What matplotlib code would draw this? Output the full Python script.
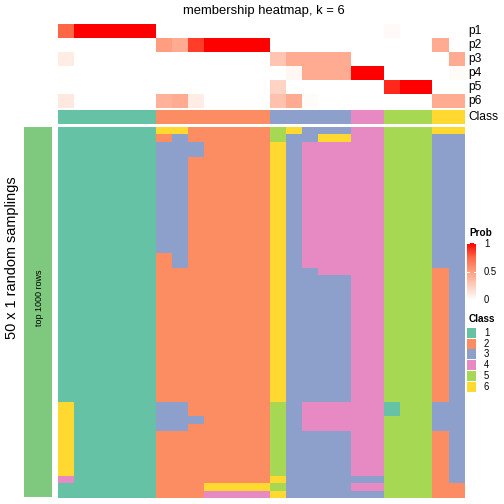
import numpy as np
import matplotlib
matplotlib.use("Agg")
import matplotlib.pyplot as plt
from matplotlib.colors import ListedColormap, LinearSegmentedColormap

plt.rcParams['font.family'] = ['Liberation Sans', 'DejaVu Sans']

# class colours (Set2-like)
class_colors = ['#66C2A5', '#FC8D62', '#8DA0CB', '#E78AC3', '#A6D854', '#FFD92F']
class_labels = ['1', '2', '3', '4', '5', '6']
prob_labels = ['p1', 'p2', 'p3', 'p4', 'p5', 'p6']

# membership probabilities, 25 samples
p1 = [0.75, 1, 1, 1, 1, 1, 0, 0, 0, 0, 0, 0, 0, 0, 0, 0, 0, 0, 0, 0, 0.03, 0, 0, 0, 0]
p2 = [0, 0, 0, 0, 0, 0, 0.5, 0.43, 0.85, 1, 1, 1, 1, 0, 0, 0, 0, 0, 0, 0, 0, 0, 0, 0.43, 0]
p3 = [0.1, 0, 0, 0, 0, 0, 0, 0, 0, 0, 0, 0, 0, 0.3, 0.43, 0.43, 0.43, 0.43, 0, 0, 0, 0, 0, 0, 0.43]
p4 = [0, 0, 0, 0, 0, 0, 0, 0, 0, 0, 0, 0, 0, 0, 0.04, 0.43, 0.43, 0.43, 1, 1, 0, 0, 0, 0, 0.02]
p5 = [0, 0, 0, 0, 0, 0, 0, 0, 0, 0, 0, 0, 0, 0.22, 0, 0, 0, 0, 0, 0, 0.9, 1, 1, 0, 0]
p6 = [0.12, 0, 0, 0, 0, 0, 0.4, 0.43, 0.1, 0, 0, 0, 0, 0.32, 0.43, 0.02, 0, 0, 0, 0, 0, 0, 0, 0.43, 0.43]

# consensus class per sample
consensus = [1]*6 + [2]*7 + [3]*5 + [4]*2 + [5]*3 + [6]*2

# class of each sample in the 50 random samplings (one list per sample column)
col0 = [1]*37 + [6]*10 + [4] + [1]*2
col1 = [1]*50
col6 = [6] + [2] + [3]*15 + [2]*20 + [3]*4 + [2]*9
col7 = [6] + [3]*18 + [2]*18 + [3]*4 + [2]*9
col8 = [2]*2 + [3]*2 + [2]*35 + [3] + [2]*10
col9 = [2]*48 + [6] + [4]
col13 = [5]*2 + [6]*35 + [5]*10 + [6] + [5] + [6]
col14 = [6] + [3]*49
col15 = [3]*2 + [4]*17 + [3]*18 + [4]*4 + [3]*9
col16 = [3] + [6] + [4]*18 + [3]*17 + [4]*4 + [3]*9
col18 = [4]*47 + [3] + [4] + [3]
col20 = [5]*37 + [1]*2 + [5]*11
col21 = [5]*50
col23 = [6] + [3]*18 + [2]*18 + [3]*4 + [2]*9
col24 = [6] + [3]*47 + [2]*2

samplings = [col0, col1, col1, col1, col1, col1,
             col6, col7, col8, col9, col9, col9, col9,
             col13, col14, col15, col16, col16,
             col18, col18, col20, col21, col21, col23, col24]

W = H = 504
fig = plt.figure(figsize=(7, 7), dpi=72)


def box(x0, y0, x1, y1):
    # pixel box (top-left origin) -> axes
    return fig.add_axes([x0 / W, 1 - y1 / H, (x1 - x0) / W, (y1 - y0) / H])


# LAB-like white -> red ramp
prob_cmap = LinearSegmentedColormap.from_list(
    'prob', [(0, '#FFFFFF'), (0.25, '#FFCFBE'), (0.5, '#FF9E81'),
             (0.75, '#FF6846'), (1, '#FF0000')])
class_cmap = ListedColormap(class_colors)

xl, xr = 58, 465

ax_p = box(xl, 24, xr, 108)
ax_p.imshow(np.array([p1, p2, p3, p4, p5, p6]), cmap=prob_cmap, vmin=0, vmax=1,
            aspect='auto', interpolation='nearest')
ax_p.set_axis_off()
for i, lab in enumerate(prob_labels):
    fig.text(468 / W, 1 - (24 + 14 * i + 7) / H, lab, fontsize=12, va='center', ha='left')

ax_c = box(xl, 110, xr, 124)
ax_c.imshow(np.array([consensus]) - 1, cmap=class_cmap, vmin=-0.5, vmax=5.5,
            aspect='auto', interpolation='nearest')
ax_c.set_axis_off()
fig.text(468 / W, 1 - 117 / H, 'Class', fontsize=12, va='center', ha='left')

ax_b = box(xl, 127, xr, 498)
ax_b.imshow(np.array(samplings).T - 1, cmap=class_cmap, vmin=-0.5, vmax=5.5,
            aspect='auto', interpolation='nearest')
ax_b.set_axis_off()

fig.text(264 / W, 1 - 11 / H, 'membership heatmap, k = 6', fontsize=13,
         ha='center', va='center')

# left annotation bar
ax_l = box(24, 127, 52, 497)
ax_l.set_facecolor('#7FC97F')
ax_l.set_xticks([])
ax_l.set_yticks([])
for s in ax_l.spines.values():
    s.set_visible(False)
fig.text(40 / W, 1 - 298 / H, 'top 1000 rows', fontsize=9, rotation=90,
         ha='center', va='center')
fig.text(12 / W, 1 - 258 / H, '50 x 1 random samplings', fontsize=14.5, rotation=90,
         ha='center', va='center')

# Prob legend
fig.text(469 / W, 1 - 233 / H, 'Prob', fontsize=10, fontweight='bold', ha='left', va='center')
ax_cb = box(467, 243, 476, 300)
grad = np.linspace(1, 0, 100).reshape(-1, 1)
ax_cb.imshow(grad, cmap=prob_cmap, vmin=0, vmax=1, aspect='auto')
ax_cb.set_axis_off()
for v, t in [(1, '1'), (0.5, '0.5'), (0, '0')]:
    y = 244 + (1 - v) * 56
    fig.text(484 / W, 1 - y / H, t, fontsize=9.5, ha='left', va='center')
    if v > 0:
        yy = (1 - v) * 99
        ax_cb.plot([-0.5, -0.25], [yy, yy], color='white', lw=1)
        ax_cb.plot([0.25, 0.5], [yy, yy], color='white', lw=1)
ax_cb.set_xlim(-0.5, 0.5)
ax_cb.set_ylim(99, 0)

# Class legend
fig.text(469 / W, 1 - 319 / H, 'Class', fontsize=10, fontweight='bold', ha='left', va='center')
for i, (c, lab) in enumerate(zip(class_colors, class_labels)):
    y0 = 328 + 10.7 * i
    a = box(467, y0, 476, y0 + 10)
    a.set_facecolor(c)
    a.set_xticks([])
    a.set_yticks([])
    for s in a.spines.values():
        s.set_visible(False)
    fig.text(484 / W, 1 - (y0 + 5) / H, lab, fontsize=9.5, ha='left', va='center')

fig.savefig('out.png', dpi=72)
